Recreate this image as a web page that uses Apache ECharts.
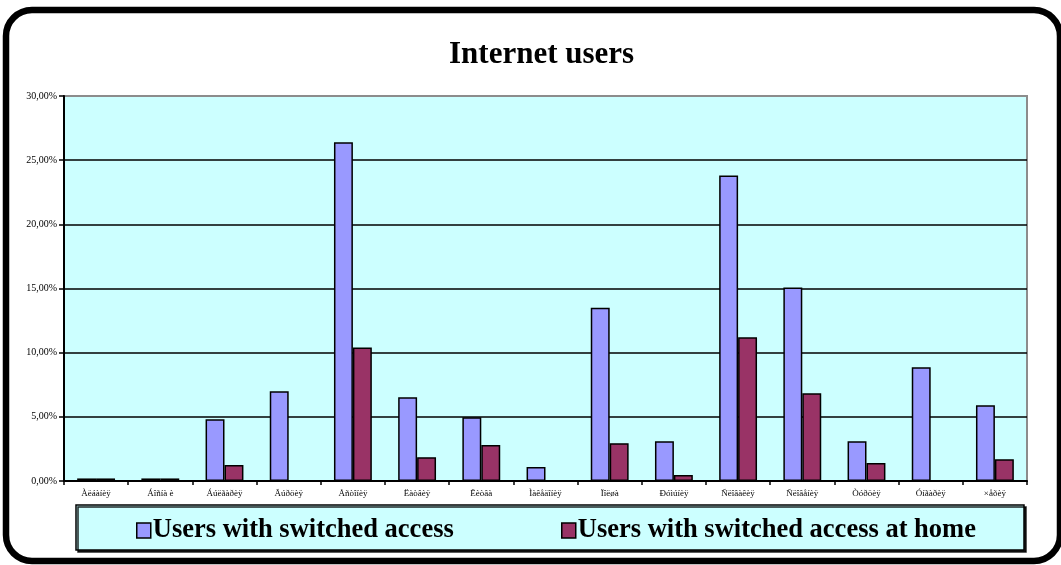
<!DOCTYPE html>
<html>
<head>
<meta charset="utf-8">
<script src="https://cdn.jsdelivr.net/npm/echarts@6/dist/echarts.min.js"></script>
<style>
  html, body { margin: 0; padding: 0; background: #ffffff; }
  #chart { width: 1061px; height: 565px; }
</style>
</head>
<body>
<div id="chart"></div>
<script>
// Country labels (as encoded in the source workbook)
const categories = ['Àëáàíèÿ', 'Áîñíà è', 'Áúëãàðèÿ', 'Ãúðöèÿ', 'Åñòîíèÿ', 'Ëàòâèÿ', 'Ëèòâà',
  'Ìàêåäîíèÿ', 'Ïîëøà', 'Ðóìúíèÿ', 'Ñëîâàêèÿ', 'Ñëîâåíèÿ', 'Òóðöèÿ', 'Óíãàðèÿ', '×åõèÿ'];

// Share of population, percent
const switchedAccess = [0.2, 0.2, 4.82, 7.0, 26.4, 6.53, 4.97, 1.09, 13.5, 3.1, 23.8, 15.07, 3.1, 8.86, 5.9];
const switchedAccessHome = [0.2, 0.2, 1.24, 0, 10.4, 1.86, 2.8, 0, 2.95, 0.47, 11.2, 6.84, 1.4, 0, 1.7];

const seriesNames = ['Users with switched access', 'Users with switched access at home'];
const seriesColors = ['#9999FF', '#993366'];

const serif = '"Liberation Serif", "Times New Roman", serif';

const chart = echarts.init(document.getElementById('chart'));

const legendText = { fontFamily: serif, fontSize: 26.5, fontWeight: 'bold', color: '#000', padding: [0, 0, 0, -3] };

chart.setOption({
  backgroundColor: '#ffffff',
  animation: false,
  title: {
    text: 'Internet users',
    left: 444,
    top: 34,
    textStyle: { fontFamily: serif, fontSize: 31, fontWeight: 'bold', color: '#000' }
  },
  graphic: [
    {
      type: 'rect',
      shape: { x: 6, y: 10, width: 1054, height: 551, r: 26 },
      style: { fill: 'none', stroke: '#000', lineWidth: 6.5 },
      z: 100
    },
    {
      type: 'rect',
      shape: { x: 76, y: 505, width: 948, height: 45 },
      style: {
        fill: '#CCFFFF', stroke: '#000', lineWidth: 1.5,
        shadowColor: 'rgba(0,0,0,0.85)', shadowOffsetX: 2, shadowOffsetY: 2, shadowBlur: 0
      },
      z: 0
    }
  ],
  legend: [
    {
      data: [seriesNames[0]],
      left: 131, top: 512,
      itemWidth: 14, itemHeight: 15, itemGap: 6,
      icon: 'rect',
      itemStyle: { borderColor: '#000', borderWidth: 1.5 },
      textStyle: legendText
    },
    {
      data: [seriesNames[1]],
      left: 556, top: 512,
      itemWidth: 14, itemHeight: 15, itemGap: 6,
      icon: 'rect',
      itemStyle: { borderColor: '#000', borderWidth: 1.5 },
      textStyle: legendText
    }
  ],
  grid: {
    left: 64, right: 34, top: 96, bottom: 84,
    show: true,
    backgroundColor: '#CCFFFF',
    borderColor: '#8c8c8c',
    borderWidth: 2
  },
  xAxis: {
    type: 'category',
    data: categories,
    axisLine: { show: true, lineStyle: { color: '#000', width: 2 } },
    axisTick: { show: true, alignWithLabel: false, length: 4, lineStyle: { color: '#000', width: 1.5 } },
    axisLabel: { fontFamily: serif, fontSize: 9, color: '#000', margin: 8, interval: 0 }
  },
  yAxis: {
    type: 'value',
    min: 0, max: 30, interval: 5,
    axisLine: { show: true, lineStyle: { color: '#000', width: 2 } },
    axisTick: { show: true, length: 5, lineStyle: { color: '#000', width: 1.5 } },
    axisLabel: {
      fontFamily: serif, fontSize: 10, color: '#000', margin: 7,
      formatter: v => v.toFixed(2).replace('.', ',') + '%'
    },
    splitLine: {
      show: true,
      lineStyle: { color: ['#000', '#000', '#000', '#000', '#000', '#000', '#8c8c8c'], width: 1.5 }
    }
  },
  series: [
    {
      name: seriesNames[0],
      type: 'bar',
      data: switchedAccess,
      barGap: '0%',
      barCategoryGap: '41%',
      itemStyle: { color: seriesColors[0], borderColor: '#000', borderWidth: 1.5 }
    },
    {
      name: seriesNames[1],
      type: 'bar',
      data: switchedAccessHome,
      itemStyle: { color: seriesColors[1], borderColor: '#000', borderWidth: 1.5 }
    }
  ]
});
</script>
</body>
</html>
